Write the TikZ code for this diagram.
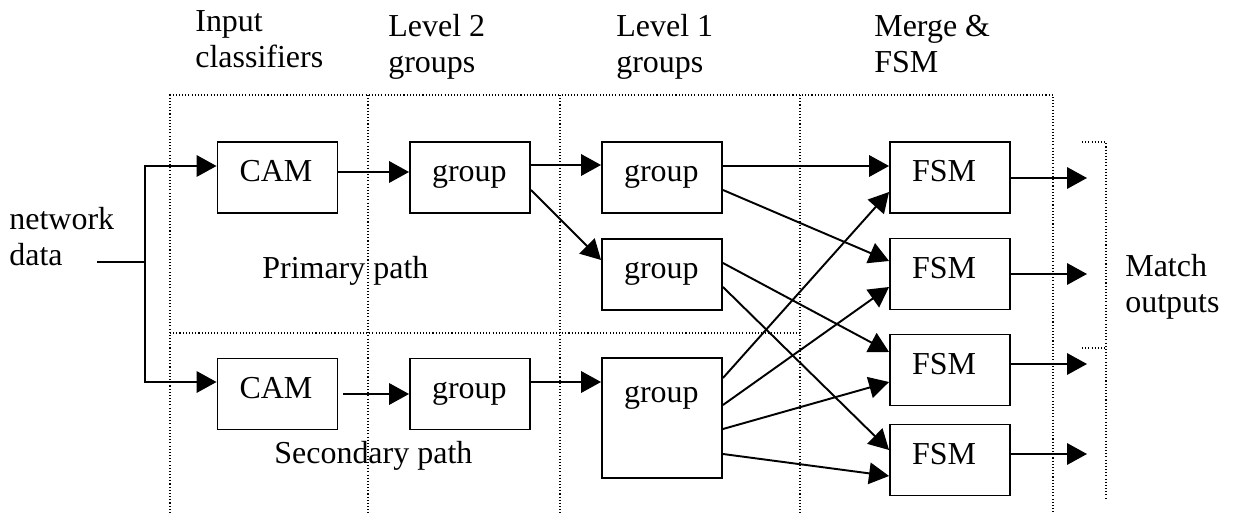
\documentclass[tikz,border=0pt]{standalone}
\usepackage{fontspec}
\setmainfont{Liberation Serif}
\usetikzlibrary{arrows.meta}
\begin{document}
\begin{tikzpicture}[x=0.02cm,y=-0.02cm,
  font=\fontsize{18.2pt}{20.5pt}\selectfont,
  box/.style={draw,line width=1.1pt,inner sep=0pt,minimum width=2.4cm,minimum height=1.42cm,
    text width=1.52cm,align=left,text height=0.8cm,text depth=0.62cm},
  bigbox/.style={box,minimum height=2.4cm,text height=0.88cm,text depth=1.52cm},
  arr/.style={line width=1.1pt,-{Triangle[length=0.4cm,width=0.43cm]}},
  plain/.style={line width=1.1pt},
  dots/.style={line width=0.6pt,dash pattern=on 0.6pt off 1.2pt},
  lbl/.style={anchor=base west,inner sep=0pt,align=left}]
\useasboundingbox (0,0) rectangle (1234,513);
% dotted frame
\draw[dots] (170,513) -- (170,95) -- (1053,95) -- (1053,513);
\draw[dots] (368,95) -- (368,513);
\draw[dots] (560,95) -- (560,513);
\draw[dots] (800,95) -- (800,513);
\draw[dots] (170,333) -- (800,333);
\draw[dots] (1082,142) -- (1106,142) -- (1106,500);
\draw[dots] (1082,348) -- (1106,348);
% headings
\node[lbl] (h1) at (195,68) {Input\\classifiers};
\node[lbl] (h2) at (388,73) {Level 2\\groups};
\node[lbl] (h3) at (616,73) {Level 1\\groups};
\node[lbl] (h4) at (874,73) {Merge \&\\FSM};
\node[lbl] (nw) at (9,266) {network\\data};
\node[lbl] (mo) at (1125,313) {Match\\outputs};
\node[lbl] (pp) at (262,278) {Primary path};
\node[lbl] (sp) at (274,463) {Secondary path};
% boxes
\node[box] (cam1) at (277.5,177.5) {CAM};
\node[box] (cam2) at (277.5,394) {CAM};
\node[box] (g2a) at (470,177.5) {group};
\node[box] (g2b) at (470,394) {group};
\node[box] (g1a) at (662,177.5) {group};
\node[box] (g1b) at (662,274.5) {group};
\node[bigbox] (g1c) at (662,418) {group};
\node[box] (f1) at (950,177.5) {FSM};
\node[box] (f2) at (950,274) {FSM};
\node[box] (f3) at (950,370) {FSM};
\node[box] (f4) at (950,460) {FSM};
% coordinates
\coordinate (nd) at (97,262);
\coordinate (split) at (145,262);
\coordinate (o1) at (1087,178);
\coordinate (o2) at (1087,274);
\coordinate (o3) at (1087,364);
\coordinate (o4) at (1087,454);
% connectors
\draw[plain] (nd) -- (split);
\draw[arr] (split) |- (cam1.west |- 0,166);
\draw[arr] (split) |- (cam2.west |- 0,382);
\draw[arr] (cam1.east |- 0,172) -- (g2a.west |- 0,172);
\draw[arr] ([xshift=0.1cm]cam2.east) -- (g2b.west);
\draw[arr] (g2a.east |- 0,165) -- (g1a.west |- 0,165);
\draw[arr] (g2a.east |- 0,190) -- (g1b.west |- 0,260);
\draw[arr] (g2b.east |- 0,382) -- (g1c.west |- 0,382);
\draw[arr] (g1a.east |- 0,166) -- (f1.west |- 0,166);
\draw[arr] (g1a.east |- 0,190) -- (f2.west |- 0,261);
\draw[arr] (g1b.east |- 0,263) -- (f3.west |- 0,352);
\draw[arr] (g1b.east |- 0,287) -- (f4.west |- 0,450);
\draw[arr] (g1c.east |- 0,378) -- (f1.west |- 0,192);
\draw[arr] (g1c.east |- 0,405) -- (f2.west |- 0,287);
\draw[arr] (g1c.east |- 0,429) -- (f3.west |- 0,382);
\draw[arr] (g1c.east |- 0,454) -- (f4.west |- 0,476);
\draw[arr] (f1.east |- o1) -- (o1);
\draw[arr] (f2.east |- o2) -- (o2);
\draw[arr] (f3.east |- o3) -- (o3);
\draw[arr] (f4.east |- o4) -- (o4);
\end{tikzpicture}
\end{document}
